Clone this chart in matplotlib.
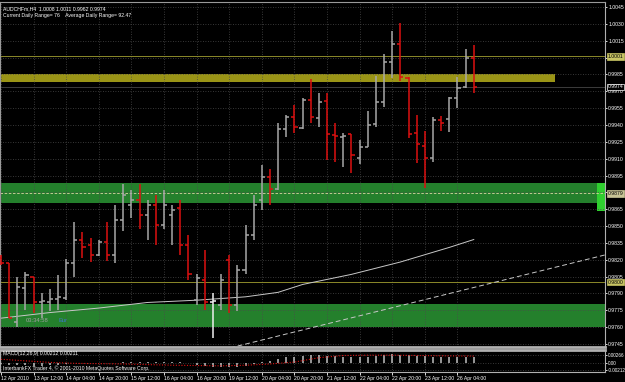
import matplotlib
matplotlib.use('Agg')
import matplotlib.pyplot as plt
import matplotlib.transforms as mtransforms

# AUDCHF H4 bars (left to right)
opens = [0.9822, 0.9817, 0.9765, 0.9795, 0.9805, 0.9782, 0.9782, 0.9785, 0.9786, 0.9817,
         0.9838, 0.9833, 0.9824, 0.9836, 0.9824, 0.9855, 0.9869, 0.9873, 0.9860, 0.9869,
         0.9851, 0.9860, 0.9866, 0.9833, 0.9784, 0.9802, 0.9782, 0.9780, 0.9820, 0.9780,
         0.9811, 0.9842, 0.9873, 0.9894, 0.9883, 0.9936, 0.9947, 0.9937, 0.9962, 0.9946,
         0.9961, 0.9931, 0.9929, 0.9932, 0.9911, 0.9920, 0.9941, 0.9960, 0.9996, 1.0012,
         0.9982, 0.9933, 0.9921, 0.9911, 0.9944, 0.9945, 0.9964, 0.9974, 1.0000]
highs = [0.9824, 0.9817, 0.9805, 0.9809, 0.9805, 0.9790, 0.9794, 0.9806, 0.9821, 0.9854,
         0.9845, 0.9839, 0.9838, 0.9854, 0.9869, 0.9887, 0.9882, 0.9887, 0.9873, 0.9878,
         0.9882, 0.9869, 0.9873, 0.9842, 0.9807, 0.9829, 0.9790, 0.9807, 0.9824, 0.9815,
         0.9851, 0.9878, 0.9904, 0.9901, 0.9942, 0.9949, 0.9958, 0.9964, 0.9981, 0.9968,
         0.9968, 0.9942, 0.9933, 0.9932, 0.9927, 0.9952, 0.9984, 1.0003, 1.0024, 1.0031,
         0.9983, 0.9949, 0.9935, 0.9947, 0.9948, 0.9965, 0.9983, 1.0008, 1.0011]
lows = [0.9815, 0.9768, 0.9760, 0.9775, 0.9773, 0.9768, 0.9774, 0.9775, 0.9784, 0.9805,
        0.9822, 0.9818, 0.9823, 0.9819, 0.9817, 0.9846, 0.9857, 0.9847, 0.9838, 0.9833,
        0.9847, 0.9833, 0.9824, 0.9802, 0.9780, 0.9775, 0.9750, 0.9775, 0.9773, 0.9774,
        0.9807, 0.9838, 0.9864, 0.9869, 0.9882, 0.9929, 0.9933, 0.9936, 0.9942, 0.9938,
        0.9909, 0.9907, 0.9903, 0.9897, 0.9905, 0.9920, 0.9938, 0.9956, 0.9982, 0.9979,
        0.9928, 0.9906, 0.9884, 0.9907, 0.9935, 0.9934, 0.9955, 0.9973, 0.9968]
closes = [0.9817, 0.9768, 0.9796, 0.9806, 0.9782, 0.9783, 0.9785, 0.9787, 0.9817, 0.9838,
          0.9831, 0.9824, 0.9836, 0.9824, 0.9855, 0.9878, 0.9873, 0.9860, 0.9869, 0.9851,
          0.9869, 0.9864, 0.9833, 0.9807, 0.9804, 0.9782, 0.9783, 0.9802, 0.9780, 0.9811,
          0.9842, 0.9869, 0.9894, 0.9883, 0.9936, 0.9947, 0.9938, 0.9962, 0.9947, 0.9960,
          0.9932, 0.9930, 0.9930, 0.9913, 0.9920, 0.9940, 0.9960, 0.9996, 1.0012, 0.9983,
          0.9932, 0.9923, 0.9911, 0.9944, 0.9942, 0.9964, 0.9973, 1.0000, 0.9974]
bright_bars = [26]

# moving average (sampled at a few bars)
ma_idx = [0, 6, 12, 18, 24, 30, 34, 37, 43, 49, 55, 58]
ma_val = [0.9768, 0.9773, 0.9777, 0.9782, 0.9784, 0.9787, 0.9791, 0.9798, 0.9807, 0.9818, 0.9831, 0.9838]

# dashed trend line (bar index, price)
trend_x = [28.1, 74.1]
trend_y = [0.97415, 0.98243]

# zones: (price low, price high, right end in bars)
olive_zone = (0.99782, 0.99854, 68.0)
green_zones = [(0.98706, 0.98884, 73.3), (0.97602, 0.97807, 74.1)]

# level lines and their price boxes
level_lines = [1.0001, 0.9974, 0.9879, 0.9800]

# MACD histogram and signal
macd_hist = [-0.0003, -0.0005, -0.0006, -0.0006, -0.0007, -0.0007, -0.0006, -0.0004, -0.0002, 0.0000,
             0.0001, 0.0001, 0.0000, 0.0001, 0.0002, 0.0004, 0.0005, 0.0005, 0.0005, 0.0004,
             0.0004, 0.0004, 0.0003, 0.0000, -0.0005, -0.0008, -0.0012, -0.0013, -0.0013, -0.0012,
             -0.0008, -0.0002, 0.0004, 0.0008, 0.0014, 0.0019, 0.0021, 0.0024, 0.0026, 0.0026,
             0.0024, 0.0023, 0.0021, 0.0020, 0.0020, 0.0021, 0.0024, 0.0027, 0.0030, 0.0028,
             0.0026, 0.0024, 0.0022, 0.0021, 0.0020, 0.0019, 0.0020, 0.0021, 0.0021]
signal_idx = [0, 3, 6, 9, 12, 15, 18, 21, 24, 27, 30, 33, 36, 39, 42, 45, 48, 51, 54, 58]
signal_val = [0.0013, 0.0008, 0.0003, 0.0000, -0.0001, -0.0002, -0.0004, -0.0006, -0.0007, -0.0008,
              -0.0006, -0.0002, 0.0004, 0.0018, 0.0025, 0.0026, 0.0026, 0.0025, 0.0024, 0.0023]

# axis labels
date_idx = [0, 4, 8, 12, 16, 20, 24, 28, 32, 36, 40, 44, 48, 52, 56]
date_labels = ['12 Apr 2010', '13 Apr 12:00', '14 Apr 04:00', '14 Apr 20:00', '15 Apr 12:00',
               '16 Apr 04:00', '16 Apr 20:00', '19 Apr 12:00', '20 Apr 04:00', '20 Apr 20:00',
               '21 Apr 12:00', '22 Apr 04:00', '22 Apr 20:00', '23 Apr 12:00', '26 Apr 04:00']
price_ticks = [1.0045, 1.0030, 1.0015, 1.0000, 0.9985, 0.9970, 0.9955, 0.9940, 0.9925, 0.9910,
               0.9895, 0.9880, 0.9865, 0.9850, 0.9835, 0.9820, 0.9805, 0.9790, 0.9775, 0.9760, 0.9745]
hidden_ticks = [1.0000, 0.9880]   # covered by the price boxes
macd_ticks = [0.00266, 0.0, -0.00212]
macd_tick_labels = ['0.00266', '0.00', '-0.00212']

BG = '#000000'
GRID = '#4a4a4a'
FS = 3.7
plt.rcParams['font.family'] = ['Liberation Sans', 'DejaVu Sans']

fig = plt.figure(figsize=(6.25, 3.82), dpi=100, facecolor=BG)
ax = fig.add_axes([0.0, 35 / 382, 605 / 625, 345 / 382], facecolor=BG)
ax2 = fig.add_axes([0.0, 10 / 382, 605 / 625, 22 / 382], facecolor=BG)

n = len(opens)
idx = list(range(n))

# zones first, bars on top
ax.axhspan(olive_zone[0], olive_zone[1], xmin=0, xmax=(olive_zone[2] + 0.12) / 74.22,
           color='#9a9416', zorder=1, lw=0)
for lo, hi, right in green_zones:
    ax.axhspan(lo, hi, xmin=0, xmax=(right + 0.12) / 74.22, color='#24802c', zorder=1, lw=0)
ax.fill_between([73.1, 74.1], 0.98635, 0.98884, color='#2fcf2f', zorder=1.5, lw=0)

# level lines
ax.axhline(level_lines[0], color='#8c8a2a', lw=0.7, zorder=1.6)
ax.axhline(level_lines[1], color='#3c3c3c', lw=0.7, zorder=1.6)
ax.axhline(level_lines[2], color='#d8d8a0', lw=0.6, ls=(0, (3, 2)), zorder=1.6)
ax.axhline(level_lines[3], color='#8c8a2a', lw=0.7, zorder=1.6)

# MA and trend line
ax.plot(ma_idx, ma_val, color='#c8c8c8', lw=0.7, zorder=2)
ax.plot(trend_x, trend_y, color='#c8c8c8', lw=0.7, ls=(0, (5, 3)), zorder=2)

# OHLC bars
tick = 0.38
for i in idx:
    if i in bright_bars:
        c = '#f0f0f0'
    elif closes[i] < opens[i]:
        c = '#dd1010'
    else:
        c = '#a8a8a8'
    ax.vlines(i, lows[i], highs[i], color=c, lw=1.1, zorder=3)
    ax.hlines(opens[i], i - tick, i, color=c, lw=1.1, zorder=3)
    ax.hlines(closes[i], i, i + tick, color=c, lw=1.1, zorder=3)

ax.set_xlim(-0.12, 74.1)
ax.set_ylim(0.974234, 1.004945)
ax.set_xticks(date_idx)
ax.set_xticklabels([])
ax.set_yticks(price_ticks)
ax.set_yticklabels(['' if p in hidden_ticks else '%.4f' % p for p in price_ticks])
ax.yaxis.tick_right()
ax.tick_params(axis='y', colors='white', labelsize=FS, length=1.5, pad=0.8, width=0.6)
ax.tick_params(axis='x', length=0)
ax.grid(True, color=GRID, ls=(0, (1, 2)), lw=0.6, zorder=0)
for s in ['left', 'top']:
    ax.spines[s].set_color('#9a9a9a')
ax.spines['right'].set_color('#b0b0b0')
ax.spines['bottom'].set_color('#b0b0b0')
ax.spines['bottom'].set_linewidth(2)

# price boxes on the right scale
trans = mtransforms.blended_transform_factory(ax.transAxes, ax.transData)
box_style = [('1.0001', level_lines[0], '#c8c464', 'black', '#c8c464'),
             ('0.9974', level_lines[1], BG, 'white', 'white'),
             ('0.9879', level_lines[2], '#c8c496', 'black', '#c8c496'),
             ('0.9800', level_lines[3], '#c8c464', 'black', '#c8c464')]
for txt, y, fc, tc, ec in box_style:
    ax.text(1.004, y, txt, transform=trans, fontsize=FS, color=tc, va='center', ha='left',
            clip_on=False, zorder=10,
            bbox=dict(boxstyle='square,pad=0.12', fc=fc, ec=ec, lw=0.5))

# header texts
ax.text(0.005, 0.989, 'AUDCHFm,H4  1.0008 1.0011 0.9962 0.9974', transform=ax.transAxes,
        fontsize=FS, color='white', va='top', ha='left')
ax.text(0.005, 0.969, 'Current Daily Range= 76    Average Daily Range= 92.47', transform=ax.transAxes,
        fontsize=FS, color='white', va='top', ha='left')
ax.text(3.0, 0.97663, '03:34:58', fontsize=FS + 0.5, color='#a0a0a0', va='center', ha='left', zorder=4)
ax.text(7.0, 0.97663, 'Eur', fontsize=FS + 0.5, color='#3c78c8', va='center', ha='left', zorder=4)

# MACD panel
ax2.vlines(idx, 0, macd_hist, color='#c0c0c0', lw=1.1, zorder=3)
ax2.plot(signal_idx, signal_val, color='#dd1010', lw=0.8, ls=(0, (1, 1.5)), zorder=4)
ax2.set_xlim(-0.12, 74.1)
ax2.set_ylim(-0.00276, 0.00425)
ax2.set_yticks(macd_ticks)
ax2.set_yticklabels(macd_tick_labels)
ax2.yaxis.tick_right()
ax2.tick_params(axis='y', colors='white', labelsize=FS - 0.4, length=1.2, pad=0.6, width=0.6)
ax2.set_xticks(date_idx)
ax2.set_xticklabels(date_labels, ha='left')
ax2.tick_params(axis='x', colors='white', labelsize=FS, length=2, pad=1, width=0.6)
ax2.grid(True, color=GRID, ls=(0, (1, 2)), lw=0.6, zorder=0)
for s in ['left', 'bottom', 'right']:
    ax2.spines[s].set_color('#b0b0b0')
ax2.spines['top'].set_color('#b0b0b0')
ax2.spines['top'].set_linewidth(2)
ax2.text(0.005, 0.95, 'MACD(12,26,9) 0.00212 0.00211', transform=ax2.transAxes,
         fontsize=FS, color='white', va='top', ha='left', zorder=5)
ax2.text(0.005, 0.05, 'InterbankFX Trader 4, \u00a9 2001-2010 MetaQuotes Software Corp.',
         transform=ax2.transAxes, fontsize=FS, color='white', va='bottom', ha='left', zorder=5)

fig.savefig('out.png', dpi=100, facecolor=BG)
